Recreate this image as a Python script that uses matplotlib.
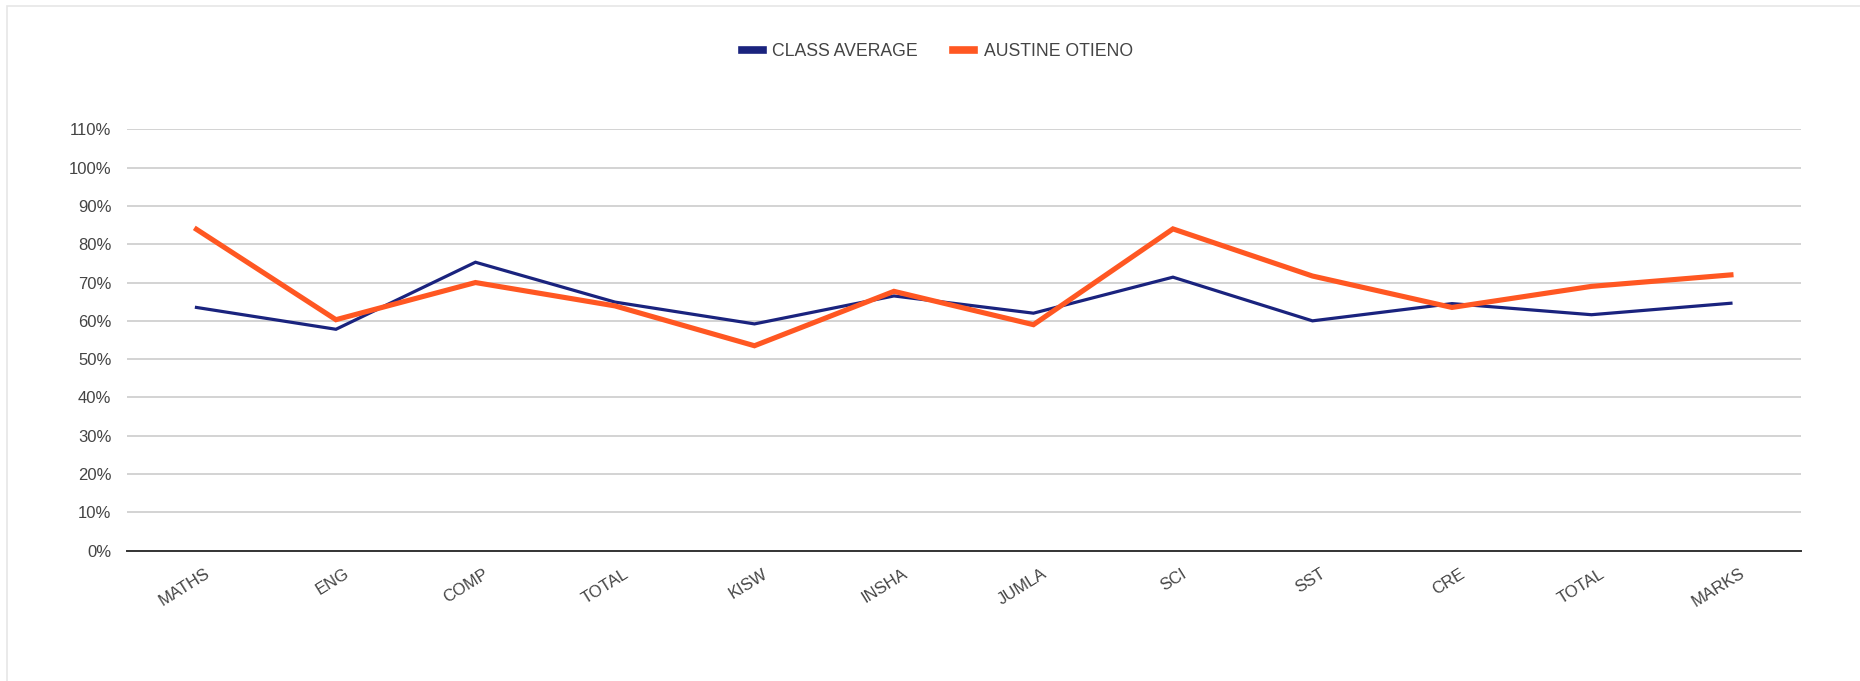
import matplotlib
matplotlib.use("Agg")
import matplotlib.pyplot as plt
import matplotlib.transforms as mtransforms
from matplotlib.patches import Rectangle
from matplotlib.ticker import FuncFormatter, MultipleLocator

categories = ["MATHS", "ENG", "COMP", "TOTAL", "KISW", "INSHA", "JUMLA",
              "SCI", "SST", "CRE", "TOTAL", "MARKS"]
class_average = [0.635, 0.578, 0.753, 0.649, 0.592, 0.665, 0.620,
                 0.714, 0.600, 0.645, 0.616, 0.646]
austine_otieno = [0.839, 0.603, 0.700, 0.639, 0.535, 0.677, 0.590,
                  0.840, 0.717, 0.635, 0.690, 0.720]

NAVY = "#1a237e"
ORANGE = "#ff5722"
TEXT = "#444444"

plt.rcParams["font.family"] = ["Liberation Sans", "DejaVu Sans"]

fig = plt.figure(figsize=(18.6, 6.81), dpi=100)
fig.patches.append(Rectangle((7 / 1860, -0.1), 2.0, 1.1 - 6 / 681,
                             transform=fig.transFigure, fill=False,
                             edgecolor="#e6e6e6", linewidth=1.2, zorder=0))

ax = fig.add_axes([126.7 / 1860, 130.3 / 681, (1800.7 - 126.7) / 1860, (551.7 - 130.3) / 681])

x = list(range(len(categories)))
ax.plot(x, class_average, color=NAVY, linewidth=2.3, label="CLASS AVERAGE",
        solid_joinstyle="miter", zorder=3)
ax.plot(x, austine_otieno, color=ORANGE, linewidth=3.7, label="AUSTINE OTIENO",
        solid_joinstyle="miter", zorder=4)

ax.set_xlim(-0.5, len(categories) - 0.5)
ax.set_ylim(0, 1.1)
ax.yaxis.set_major_locator(MultipleLocator(0.1))
ax.yaxis.set_major_formatter(FuncFormatter(lambda v, p: f"{round(v * 100)}%"))
ax.grid(axis="y", color="#cccccc", linewidth=1.2, zorder=0)
ax.set_axisbelow(True)
for s in ["top", "right", "left"]:
    ax.spines[s].set_visible(False)
ax.spines["bottom"].set_color("#333333")
ax.spines["bottom"].set_linewidth(1.4)
ax.spines["bottom"].set_zorder(5)

ax.tick_params(axis="y", length=0, pad=11, labelsize=12, labelcolor=TEXT)
ax.tick_params(axis="x", length=0, pad=11, labelsize=12, labelcolor=TEXT)
ax.set_xticks(x)
ax.set_xticklabels(categories, rotation=32, ha="right", rotation_mode="anchor")
offset = mtransforms.ScaledTranslation(8 / 100, 0, fig.dpi_scale_trans)
for lbl in ax.get_xticklabels():
    lbl.set_transform(lbl.get_transform() + offset)

leg = fig.legend(loc="center", bbox_to_anchor=(0.504, 0.924), ncol=2, frameon=False,
                 fontsize=12.7, handlelength=1.2, handletextpad=0.55, columnspacing=2.0)
for h in leg.legend_handles:
    h.set_linewidth(5.5)
for t in leg.get_texts():
    t.set_color(TEXT)

fig.savefig("out.png", dpi=100, facecolor="white")
